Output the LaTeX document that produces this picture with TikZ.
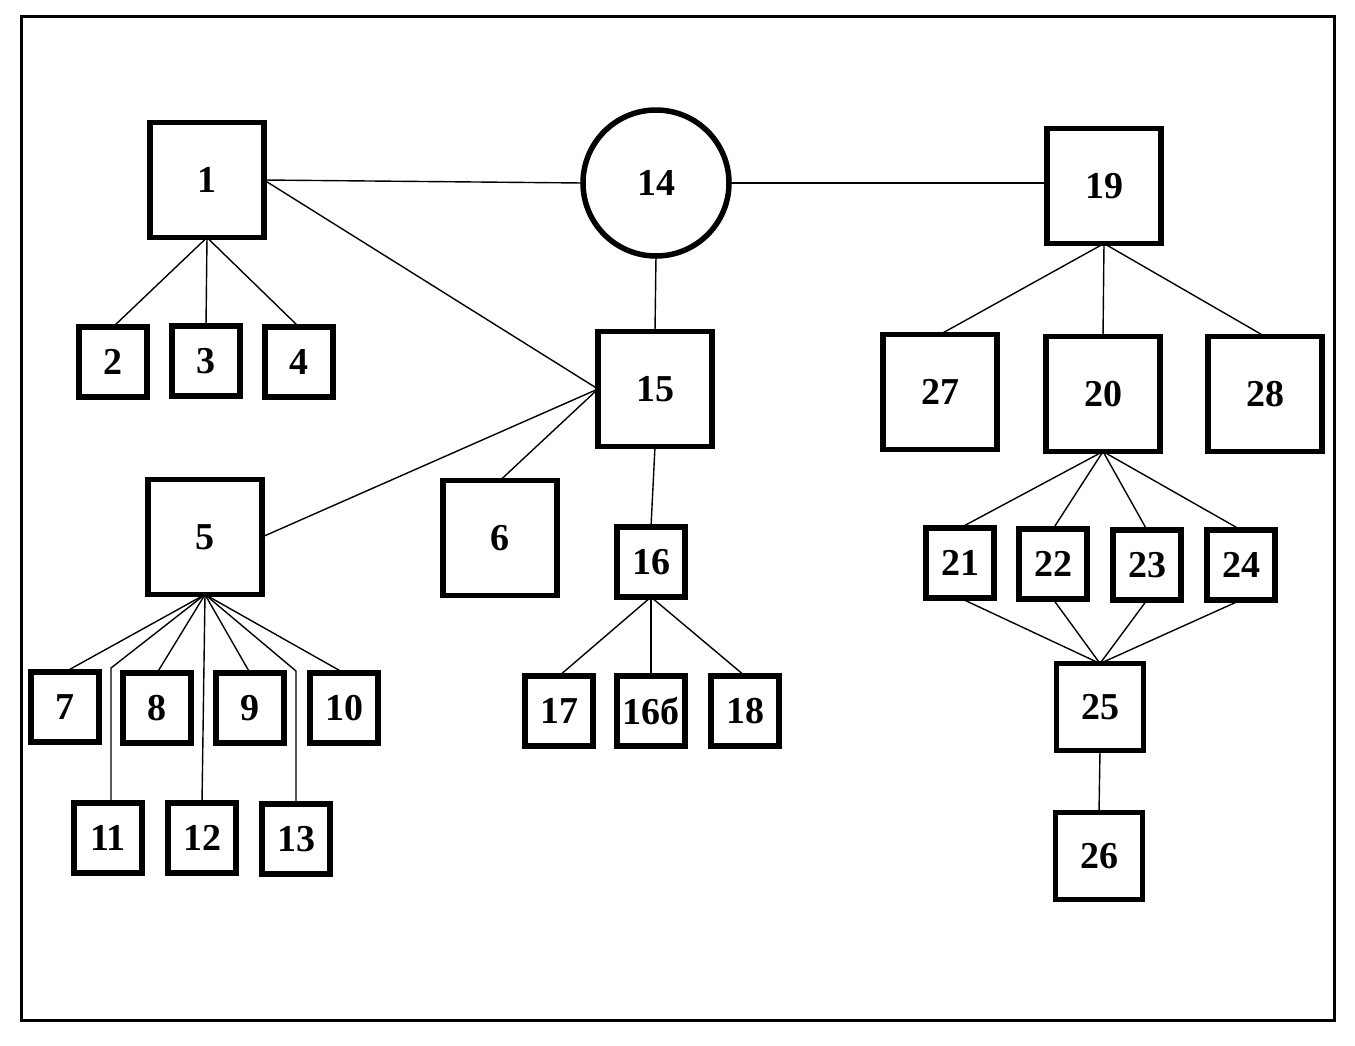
\documentclass[tikz,border=0pt]{standalone}
\usepackage{fontspec}
\setmainfont{Liberation Serif}
\begin{document}
\begin{tikzpicture}[x=1pt,y=-1pt,
  box/.style={draw,line width=5.5pt,inner sep=0pt,outer sep=0pt,font=\fontsize{38}{40}\selectfont\bfseries},
  big/.style={box,minimum width=114pt,minimum height=115pt},
  small/.style={box,minimum width=68pt,minimum height=70pt},
  mid/.style={box,minimum width=87pt,minimum height=87pt},
  link/.style={line width=1.4pt}]
\useasboundingbox (0,0) rectangle (1355,1045);
\draw[line width=3pt] (21,16) rectangle (1334,1020);
% big nodes
\node[big] (n1) at (207,180) {1};
\node[draw,circle,line width=5.5pt,minimum size=146pt,inner sep=0pt,outer sep=0pt,font=\fontsize{38}{40}\selectfont\bfseries] (n14) at (656,183) {14};
\node[big] (n19) at (1104,186) {19};
\node[big] (n15) at (655,389) {15};
\node[big] (n27) at (940,392) {27};
\node[big] (n20) at (1103,394) {20};
\node[big] (n28) at (1265,394) {28};
\node[big] (n5) at (205,537) {5};
\node[big] (n6) at (500,538) {6};
% small nodes
\node[small] (n2) at (113,362) {2};
\node[small] (n3) at (206,361) {3};
\node[small] (n4) at (299,362) {4};
\node[small] (n16) at (651,562) {16};
\node[small] (n21) at (960,563) {21};
\node[small] (n22) at (1053,564) {22};
\node[small] (n23) at (1147,565) {23};
\node[small] (n24) at (1241,565) {24};
\node[small] (n7) at (65,707) {7};
\node[small] (n8) at (157,708) {8};
\node[small] (n9) at (250,708) {9};
\node[small] (n10) at (344,708) {10};
\node[small] (n17) at (559,711) {17};
\node[small] (n16b) at (651,711) {16б};
\node[small] (n18) at (745,711) {18};
\node[small] (n11) at (108,838) {11};
\node[small] (n12) at (202,838) {12};
\node[small] (n13) at (296,839) {13};
\node[mid] (n25) at (1100,707) {25};
\node[mid] (n26) at (1099,856) {26};
% bend points
\coordinate (b11) at (111,668);
\coordinate (b13) at (296,671);
% connectors
\draw[link] (n1.east) -- (n14.west);
\draw[link] (n14.east) -- (n19.west |- n14.east);
\draw[link] (n1.east) -- (n15.west);
\draw[link] (n1.south) -- (n2.north);
\draw[link] (n1.south) -- (n3.north);
\draw[link] (n1.south) -- (n4.north);
\draw[link] (n14.south) -- (n15.north);
\draw[link] (n15.west) -- (n5.east);
\draw[link] (n15.west) -- (n6.north);
\draw[link] (n15.south) -- (n16.north);
\draw[link] (n16.south) -- (n17.north);
\draw[link] (n16.south) -- (n16b.north);
\draw[link] (n16.south) -- (n18.north);
\draw[link] (n5.south) -- (n7.north);
\draw[link] (n5.south) -- (n8.north);
\draw[link] (n5.south) -- (n9.north);
\draw[link] (n5.south) -- (n10.north);
\draw[link] (n5.south) -- (n12.north);
\draw[link] (n5.south) -- (b11) -- (n11.north -| b11);
\draw[link] (n5.south) -- (b13) -- (n13.north);
\draw[link] (n19.south) -- (n27.north);
\draw[link] (n19.south) -- (n20.north);
\draw[link] (n19.south) -- (n28.north);
\draw[link] (n20.south) -- (n21.north);
\draw[link] (n20.south) -- (n22.north);
\draw[link] (n20.south) -- (n23.north);
\draw[link] (n20.south) -- (n24.north);
\draw[link] (n21.south) -- (n25.north);
\draw[link] (n22.south) -- (n25.north);
\draw[link] (n23.south) -- (n25.north);
\draw[link] (n24.south) -- (n25.north);
\draw[link] (n25.south) -- (n26.north);
\end{tikzpicture}
\end{document}
